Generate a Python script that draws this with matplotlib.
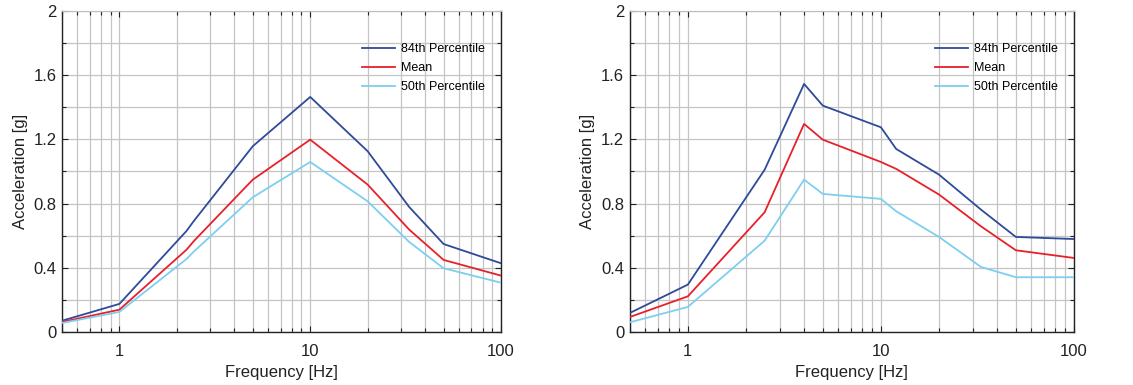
import matplotlib
matplotlib.use("Agg")
import matplotlib.pyplot as plt
from matplotlib.ticker import FixedLocator, NullFormatter, LogLocator

plt.rcParams['font.family'] = ['Liberation Sans', 'DejaVu Sans']

# Left panel data
freq_left = [0.5, 1, 2.25, 2.45, 5, 10, 20, 33, 50, 100]
p84_left = [0.07, 0.175, 0.63, 0.69, 1.157, 1.464, 1.126, 0.779, 0.548, 0.428]
mean_left = [0.062, 0.139, 0.513, 0.565, 0.949, 1.198, 0.918, 0.638, 0.449, 0.351]
p50_left = [0.056, 0.125, 0.455, 0.50, 0.839, 1.059, 0.814, 0.561, 0.397, 0.307]

# Right panel data
freq_right = [0.5, 1, 2.5, 4, 5, 10, 12, 20, 33, 50, 100]
p84_right = [0.118, 0.295, 1.011, 1.545, 1.41, 1.275, 1.14, 0.98, 0.762, 0.592, 0.579]
mean_right = [0.093, 0.222, 0.746, 1.296, 1.198, 1.059, 1.016, 0.856, 0.658, 0.509, 0.461]
p50_right = [0.06, 0.156, 0.569, 0.949, 0.86, 0.829, 0.752, 0.592, 0.405, 0.341, 0.341]

series_labels = ['84th Percentile', 'Mean', '50th Percentile']
series_colors = ['#2E4A9A', '#E8202A', '#7DCFEF']
x_ticks = [1, 10, 100]
x_ticklabels = ['1', '10', '100']
y_ticks = [0, 0.4, 0.8, 1.2, 1.6, 2.0]
y_ticklabels = ['0', '0.4', '0.8', '1.2', '1.6', '2']

fig = plt.figure(figsize=(11.33, 3.85), dpi=100)
ax1 = fig.add_axes([0.0547, 0.1377, 0.3875, 0.834])
ax2 = fig.add_axes([0.5558, 0.1377, 0.3921, 0.834])

panels = [
    (ax1, freq_left, [p84_left, mean_left, p50_left]),
    (ax2, freq_right, [p84_right, mean_right, p50_right]),
]

for ax, f, ys in panels:
    for y, lab, c in zip(ys, series_labels, series_colors):
        ax.plot(f, y, color=c, lw=1.3, label=lab, zorder=3)
    ax.set_xscale('log')
    ax.set_xlim(0.5, 100)
    ax.set_ylim(0, 2)
    ax.xaxis.set_major_locator(FixedLocator(x_ticks))
    ax.set_xticklabels(x_ticklabels)
    ax.xaxis.set_minor_locator(LogLocator(base=10, subs=range(2, 10), numticks=20))
    ax.xaxis.set_minor_formatter(NullFormatter())
    ax.yaxis.set_major_locator(FixedLocator(y_ticks))
    ax.set_yticklabels(y_ticklabels)
    ax.yaxis.set_minor_locator(FixedLocator([0.2, 0.6, 1.0, 1.4, 1.8]))
    ax.grid(True, which='both', axis='both', color='#C4C4C4', lw=0.9, zorder=0)
    ax.tick_params(which='both', direction='in', top=True, right=True,
                   labelsize=12, colors='#222222', length=4, width=0.8, pad=4)
    ax.tick_params(axis='x', which='major', pad=9)
    ax.tick_params(which='minor', length=3)
    for side in ['left', 'bottom', 'right']:
        ax.spines[side].set_color('#222222')
        ax.spines[side].set_linewidth(1.0)
    ax.spines['top'].set_color('#BDBDBD')
    ax.set_xlabel('Frequency [Hz]', fontsize=12, color='#222222', labelpad=4)
    ax.set_ylabel('Acceleration [g]', fontsize=12, color='#222222', labelpad=4)
    ax.legend(loc='upper right', bbox_to_anchor=(0.975, 0.915), frameon=False,
              fontsize=9, handlelength=2.6, handletextpad=0.5, labelspacing=0.55,
              borderaxespad=0)

fig.savefig('out.png', dpi=100)
